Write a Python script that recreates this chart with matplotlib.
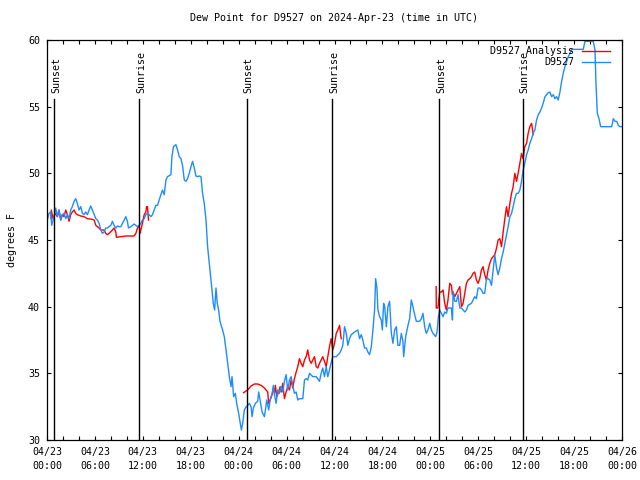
import matplotlib
matplotlib.use('Agg')
import matplotlib.pyplot as plt
import numpy as np

plt.rcParams['font.family'] = 'DejaVu Sans Mono'
plt.rcParams['font.size'] = 7.2

# hours since 2024-04-23 00:00 UTC
obs_hours = [0.04, 0.25, 0.46, 0.59, 0.88, 1.09, 1.29, 1.5, 1.72, 1.92, 2.13, 2.35, 2.55, 2.76, 2.97,
             3.17, 3.39, 3.6, 3.8, 4.01, 4.23, 4.43, 4.64, 4.85, 5.06, 5.27, 5.48, 5.68, 5.9, 6.11,
             6.31, 6.52, 6.74, 6.94, 7.15, 7.36, 7.56, 7.78, 7.99, 8.19, 8.4, 8.62, 8.82, 9.03, 9.24,
             9.45, 9.66, 9.87, 10.07, 10.2, 10.5, 10.7, 10.91, 11.13, 11.33, 11.54, 11.75, 11.95, 12.17,
             12.38, 12.58, 12.79, 13.0, 13.21, 13.42, 13.63, 13.84, 14.05, 14.26, 14.46, 14.68, 14.89,
             15.09, 15.52, 15.64, 15.84, 16.14, 16.35, 16.56, 16.77, 16.97, 17.19, 17.4, 17.6, 17.81,
             18.03, 18.23, 18.44, 18.65, 18.85, 19.07, 19.28, 19.48, 19.69, 19.91, 20.11, 20.24, 20.41,
             20.66, 20.82, 20.99, 21.16, 21.32, 21.49, 21.66, 21.99, 22.2, 22.42, 22.62, 22.83, 23.04,
             23.17, 23.37, 23.58, 23.75, 24.0, 24.21, 24.34, 24.5, 24.71, 24.93, 25.0, 25.34, 25.55,
             25.68, 25.84, 26.09, 26.38, 26.51, 26.68, 26.93, 27.22, 27.35, 27.51, 27.76, 27.94, 28.19,
             28.35, 28.48, 28.69, 28.89, 29.1, 29.32, 29.52, 29.73, 29.94, 30.14, 30.36, 30.57, 30.77,
             30.98, 31.2, 31.4, 31.61, 32.03, 32.24, 32.45, 32.65, 32.87, 33.28, 33.71, 34.12, 34.33,
             34.53, 34.75, 34.96, 35.16, 35.37, 35.66, 35.79, 36.22, 36.63, 36.84, 37.04, 37.26, 37.47,
             37.67, 37.88, 38.1, 38.51, 38.92, 39.14, 39.35, 39.55, 39.76, 39.98, 40.18, 40.39, 40.61,
             40.81, 41.02, 41.15, 41.31, 41.44, 41.65, 41.86, 41.99, 42.15, 42.28, 42.49, 42.69, 42.9,
             43.12, 43.32, 43.53, 43.74, 43.94, 44.16, 44.37, 44.57, 44.66, 44.91, 45.2, 45.41, 45.62,
             45.82, 46.04, 46.25, 46.66, 46.87, 47.08, 47.29, 47.5, 47.7, 47.92, 48.13, 48.33, 48.67,
             48.84, 49.01, 49.17, 49.59, 49.8, 50.01, 50.21, 50.43, 50.64, 50.77, 50.85, 51.06, 51.27,
             51.47, 51.69, 51.9, 52.1, 52.31, 52.52, 52.72, 53.15, 53.56, 53.77, 53.98, 54.19, 54.4,
             54.6, 54.81, 55.03, 55.23, 55.44, 55.66, 55.86, 56.07, 56.29, 56.49, 56.7, 56.91, 57.12,
             57.33, 57.54, 57.74, 57.96, 58.17, 58.37, 58.58, 58.79, 59.0, 59.21, 59.42, 59.62, 59.83,
             60.05, 60.25, 60.46, 60.68, 60.88, 61.09, 61.3, 61.51, 61.72, 61.93, 62.13, 62.35, 62.56,
             62.76, 62.97, 63.19, 63.39, 63.6, 63.81, 64.01, 64.23, 64.44, 64.64, 64.85, 65.07, 65.27,
             65.48, 65.7, 67.15, 67.36, 68.4, 68.62, 68.74, 68.91, 69.12, 69.33, 70.71, 70.91, 71.13,
             71.34, 71.54, 71.75, 72.0]
obs_dewpt = [46.5, 47.0, 47.1, 46.1, 46.75, 47.4, 46.75, 47.25, 46.5, 46.9, 47.0, 46.6, 46.9, 46.6, 47.25,
             47.5, 47.9, 48.1, 47.75, 47.25, 47.5, 47.0, 46.9, 47.1, 46.9, 47.25, 47.55, 47.25, 46.9, 46.6,
             46.5, 46.25, 45.75, 45.5, 45.6, 45.9, 45.9, 46.0, 46.1, 46.4, 46.1, 45.9, 46.05, 46.0, 46.0,
             46.25, 46.5, 46.75, 46.4, 45.9, 46.0, 46.1, 46.2, 46.1, 46.0, 46.1, 46.25, 46.5, 46.6,
             46.9, 47.0, 46.9, 46.75, 46.9, 47.25, 47.6, 47.6, 48.0, 48.4, 48.75, 48.4, 49.5,
             49.75, 49.9, 51.25, 52.0, 52.15, 51.75, 51.25, 51.1, 50.6, 49.5, 49.4, 49.6, 50.0,
             50.5, 50.9, 50.4, 49.8, 49.75, 49.8, 49.75, 48.5, 47.75, 46.5, 44.5, 43.75, 42.75,
             41.25, 40.25, 39.75, 41.4, 40.25, 39.75, 38.9, 38.25, 37.75, 36.75, 35.75, 34.75, 34.0,
             34.75, 33.25, 33.5, 32.75, 32.0, 31.25, 30.75, 31.25, 32.25, 32.5, 32.5, 32.75, 32.5,
             31.75, 32.4, 32.75, 32.9, 33.6, 33.0, 32.1, 31.75, 32.25, 33.0, 32.25, 33.0, 33.5,
             34.1, 33.4, 32.75, 33.75, 33.5, 34.0, 33.6, 34.4, 34.9, 33.75, 34.5, 34.75, 34.1,
             33.5, 33.6, 33.0, 33.1, 33.1, 34.5, 34.6, 34.5, 35.0, 34.75, 34.75, 34.4, 35.0,
             35.4, 34.75, 35.5, 34.75, 35.25, 36.0, 36.25, 36.25, 36.5, 36.75, 37.1, 38.5, 38.0,
             37.1, 37.6, 37.9, 38.1, 38.25, 37.6, 37.9, 37.5, 36.9, 36.9, 36.6, 36.4, 37.0,
             38.25, 39.75, 42.1, 41.4, 39.75, 39.25, 39.0, 38.25, 40.25, 40.0, 38.5, 40.0, 40.4,
             38.0, 37.25, 38.25, 38.5, 37.1, 37.1, 38.0, 37.4, 36.25, 37.75, 38.6, 39.1, 40.5,
             40.0, 39.4, 38.9, 38.9, 39.1, 39.5, 38.5, 38.0, 38.25, 38.75, 38.25, 38.0, 37.75,
             38.1, 39.25, 39.75, 39.25, 39.6, 39.5, 39.9, 39.9, 39.9, 39.0, 41.1, 40.4, 40.4,
             40.9, 39.9, 39.9, 39.75, 39.6, 39.75, 40.1, 40.25, 40.75, 40.6, 41.4, 41.4, 41.25,
             41.0, 41.0, 42.1, 42.1, 42.0, 41.6, 42.75, 43.9, 42.9, 42.4, 42.9, 43.6, 44.1,
             44.75, 45.4, 46.0, 46.75, 47.0, 47.5, 48.1, 48.5, 48.5, 48.75, 49.4, 50.25, 50.75,
             51.4, 51.75, 52.25, 52.6, 53.0, 53.25, 54.0, 54.4, 54.6, 54.9, 55.25, 55.75, 55.9,
             56.05, 56.1, 55.75, 55.9, 55.6, 55.75, 55.5, 56.1, 56.9, 57.5, 58.0, 58.4, 58.75,
             59.0, 59.3, 59.3, 59.9, 59.9, 59.25, 56.75, 54.5, 54.1, 53.5, 53.5, 54.1, 53.9,
             53.9, 53.6, 53.5, 53.5]

# analysis, three separate runs
ana1_hours = [0.5, 0.54, 0.75, 1.0, 1.3, 1.5, 1.72, 1.92, 2.13, 2.35, 2.55, 2.76, 2.97, 3.17, 3.39,
              3.6, 3.8, 4.23, 4.64, 5.06, 5.68, 5.9, 6.11, 6.52, 6.74, 7.15, 7.36, 7.56, 7.78, 8.19,
              8.4, 8.62, 8.69, 9.24, 9.87, 10.91, 11.13, 11.33, 11.54, 11.63, 11.75, 11.95, 12.17,
              12.38, 12.46, 12.58, 12.71]
ana1_dewpt = [46.6, 47.25, 46.6, 47.0, 46.75, 47.25, 46.5, 46.9, 46.75, 47.25, 46.9, 46.4, 46.9, 47.1, 47.25,
              47.0, 46.9, 46.8, 46.75, 46.6, 46.55, 46.5, 46.1, 45.9, 45.75, 45.75, 45.5, 45.4, 45.5, 45.75,
              45.9, 45.6, 45.2, 45.25, 45.3, 45.3, 45.5, 45.9, 46.1, 45.5, 45.75, 46.25, 46.9,
              47.1, 47.5, 47.5, 46.5]
ana2_hours = [24.62, 25.13, 25.55, 25.97, 26.38, 26.81, 27.22, 27.64, 27.76, 27.94, 28.19, 28.35, 28.48,
              28.6, 28.77, 29.02, 29.19, 29.32, 29.52, 29.73, 29.94, 30.14, 30.36, 30.57, 30.77, 30.98,
              31.2, 31.4, 31.61, 31.82, 32.03, 32.24, 32.45, 32.65, 32.87, 33.08, 33.28, 33.49, 33.71,
              33.91, 34.12, 34.33, 34.53, 34.75, 34.96, 35.16, 35.37, 35.58, 35.79, 36.0, 36.22, 36.42,
              36.63, 36.84]
ana2_dewpt = [33.55, 33.75, 34.05, 34.2, 34.2, 34.1, 33.9, 33.6, 32.75, 33.0, 33.4, 33.9, 33.5,
              34.1, 33.25, 33.6, 34.0, 33.6, 34.25, 33.1, 33.6, 34.0, 33.75, 34.5, 33.9, 34.6,
              35.1, 35.5, 36.1, 35.75, 35.5, 36.0, 36.25, 36.75, 36.0, 35.75, 36.0, 36.25, 35.5,
              35.4, 35.75, 36.0, 36.25, 35.9, 35.5, 36.25, 37.0, 37.6, 36.75, 37.25, 38.0, 38.25,
              38.6, 37.6]
ana3_hours = [48.73, 48.74, 48.94, 49.17, 49.38, 49.59, 49.8, 50.01, 50.21, 50.43, 50.64, 50.77, 50.85,
              51.06, 51.27, 51.47, 51.69, 51.9, 52.1, 52.31, 52.52, 52.72, 52.94, 53.15, 53.35, 53.56,
              53.77, 53.98, 54.19, 54.4, 54.6, 54.81, 55.03, 55.23, 55.44, 55.66, 55.86, 56.07, 56.29,
              56.49, 56.7, 56.91, 57.12, 57.33, 57.54, 57.74, 57.96, 58.17, 58.37, 58.58, 58.79, 58.99,
              59.21, 59.42, 59.62, 59.83, 60.05, 60.25, 60.46, 60.68, 60.88]
ana3_dewpt = [41.5, 39.9, 39.9, 41.1, 41.1, 41.25, 40.25, 39.75, 40.5, 41.75, 41.6, 40.9, 41.1,
              40.75, 41.0, 41.25, 41.5, 40.0, 40.25, 41.0, 41.75, 42.0, 42.1, 42.25, 42.5, 42.6,
              42.0, 41.75, 42.1, 42.75, 43.0, 42.4, 42.0, 42.75, 43.25, 43.6, 43.75, 43.9, 44.4,
              45.0, 45.1, 44.5, 45.6, 46.6, 47.5, 46.75, 47.75, 48.5, 49.0, 50.0, 49.4, 50.0,
              50.75, 51.5, 51.1, 52.0, 52.25, 53.0, 53.5, 53.75, 52.9]

sun_hours = [0.88, 11.58, 25.0, 35.71, 49.08, 59.58]
sun_labels = ['Sunset', 'Sunrise', 'Sunset', 'Sunrise', 'Sunset', 'Sunrise']

tick_hours = list(range(0, 73, 6))
tick_labels = ['04/23\n00:00', '04/23\n06:00', '04/23\n12:00', '04/23\n18:00',
               '04/24\n00:00', '04/24\n06:00', '04/24\n12:00', '04/24\n18:00',
               '04/25\n00:00', '04/25\n06:00', '04/25\n12:00', '04/25\n18:00',
               '04/26\n00:00']

red = '#ff0000'
blue = '#1e8cff'

fig = plt.figure(figsize=(6.4, 4.8), dpi=100)
ax = fig.add_axes([47 / 640, 40 / 480, 575 / 640, 400 / 480])

for h, v in [(ana1_hours, ana1_dewpt), (ana2_hours, ana2_dewpt), (ana3_hours, ana3_dewpt)]:
    ax.plot(h, v, color=red, lw=1.0)
ax.plot(obs_hours, obs_dewpt, color=blue, lw=1.0)

# sunrise / sunset markers
for h, lab in zip(sun_hours, sun_labels):
    ax.plot([h, h], [30, 55.6], color='black', lw=1.0)
    ax.text(h + 0.25, 56.05, lab, rotation=90, ha='center', va='bottom')

ax.set_xlim(0, 72)
ax.set_ylim(30, 60)
ax.set_xticks(tick_hours)
ax.set_xticklabels(tick_labels)
for t in ax.get_xticklabels():
    t.set_linespacing(1.45)
ax.set_xticks(np.arange(0, 73, 2), minor=True)
ax.set_yticks(np.arange(30, 61, 5))
ax.tick_params(which='both', direction='in', length=3, width=0.8, top=True, right=True)
ax.tick_params(axis='x', pad=5)
ax.tick_params(axis='y', pad=5)
for s in ax.spines.values():
    s.set_linewidth(0.9)

ax.set_title('Dew Point for D9527 on 2024-Apr-23 (time in UTC)', fontsize=7.2, pad=14)
ax.set_ylabel('degrees F')
ax.yaxis.set_label_coords(-0.052, 0.5)

# key, gnuplot style: text right aligned, sample to the right
ax.text(0.9165, 0.973, 'D9527 Analysis', transform=ax.transAxes, ha='right', va='center')
ax.text(0.9165, 0.944, 'D9527', transform=ax.transAxes, ha='right', va='center')
ax.plot([0.93, 0.979], [0.973, 0.973], color=red, lw=1.0, transform=ax.transAxes)
ax.plot([0.93, 0.979], [0.944, 0.944], color=blue, lw=1.0, transform=ax.transAxes)

fig.savefig('out.png', dpi=100)
